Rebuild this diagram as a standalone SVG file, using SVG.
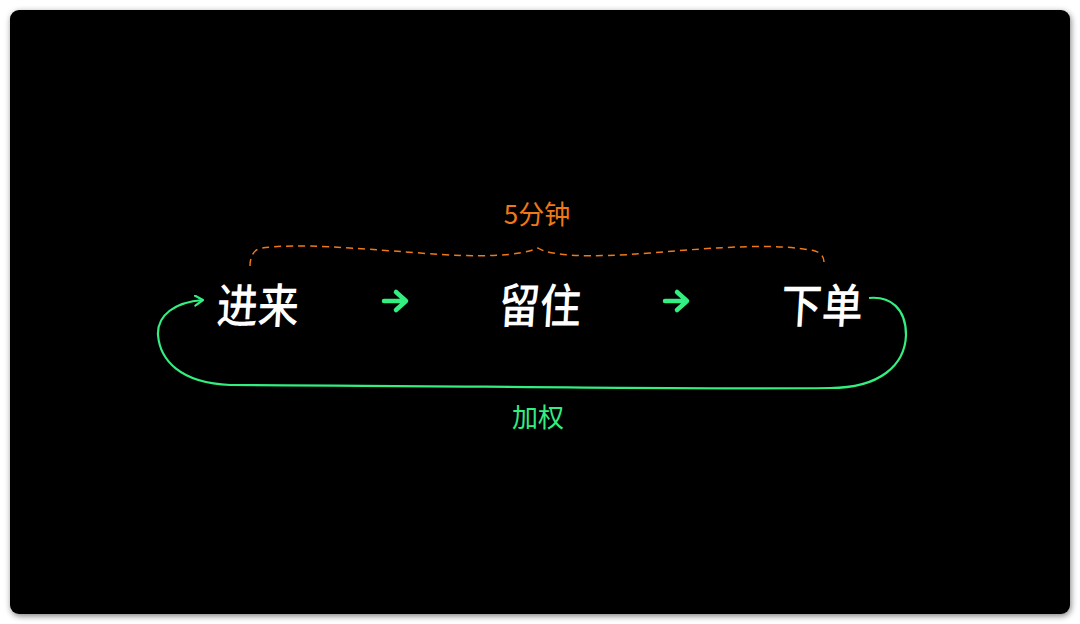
<svg xmlns="http://www.w3.org/2000/svg" width="1080" height="624" viewBox="0 0 1080 624">
<defs>
<filter id="sh" x="-5%" y="-5%" width="110%" height="110%"><feGaussianBlur stdDeviation="3"/></filter>
<marker id="ah" markerWidth="12" markerHeight="12" refX="9" refY="6" orient="auto" markerUnits="userSpaceOnUse"><path d="M1,1 L9,6 L1,11" fill="none" stroke="#33ee80" stroke-width="2.2" stroke-linecap="round" stroke-linejoin="round"/></marker>
</defs>
<style>
.node{font-family:"Noto Sans CJK SC","Noto Sans",sans-serif;font-weight:500;font-size:41px;fill:#ffffff;text-anchor:middle}
.arr{fill:none;stroke:#33ee80;stroke-width:4.5;stroke-linecap:round;stroke-linejoin:round}
.lbl{font-family:"Noto Sans CJK SC","Noto Sans",sans-serif;font-size:26px;text-anchor:middle}
</style>
<rect x="0" y="0" width="1080" height="624" fill="#ffffff"/>
<rect x="11" y="12" width="1060" height="604" rx="9" fill="#000" opacity="0.5" filter="url(#sh)"/>
<rect x="10" y="10" width="1060" height="604" rx="9" fill="#000000"/>
<g id="connectors">
<path d="M384,301 H405 M396,292 L406,301 L396,310" class="arr"/>
<path d="M665,301 H686 M677,292 L687,301 L677,310" class="arr"/>
<path d="M250,266 C250,258 253,249 262,248 C300,243 350,248 420,253 C480,258 520,256 538,248 C550,256 590,258 650,253 C720,247 780,243 815,251 C822,253 824,258 824,262" fill="none" stroke="#f07818" stroke-width="1.5" stroke-dasharray="7,5"/>
<path d="M869,298 C890,296 906,308 906,335 C905,365 880,388 830,388 C700,390 400,385 230,385 C180,383 160,360 158,335 C157,315 175,302 203,300" fill="none" stroke="#33ee80" stroke-width="2.2" marker-end="url(#ah)"/>
</g>
<g id="n1"><text class="node" transform="translate(257,323) scale(1,1.15) skewX(-4)">进来</text></g>
<g id="n2"><text class="node" transform="translate(539,323) scale(1,1.15) skewX(-4)">留住</text></g>
<g id="n3"><text class="node" transform="translate(821,323) scale(1,1.15) skewX(-4)">下单</text></g>
<g id="l1"><text x="537" y="224" class="lbl" fill="#f07818">5分钟</text></g>
<g id="l2"><text x="538" y="427" class="lbl" fill="#33ee80">加权</text></g>
</svg>
